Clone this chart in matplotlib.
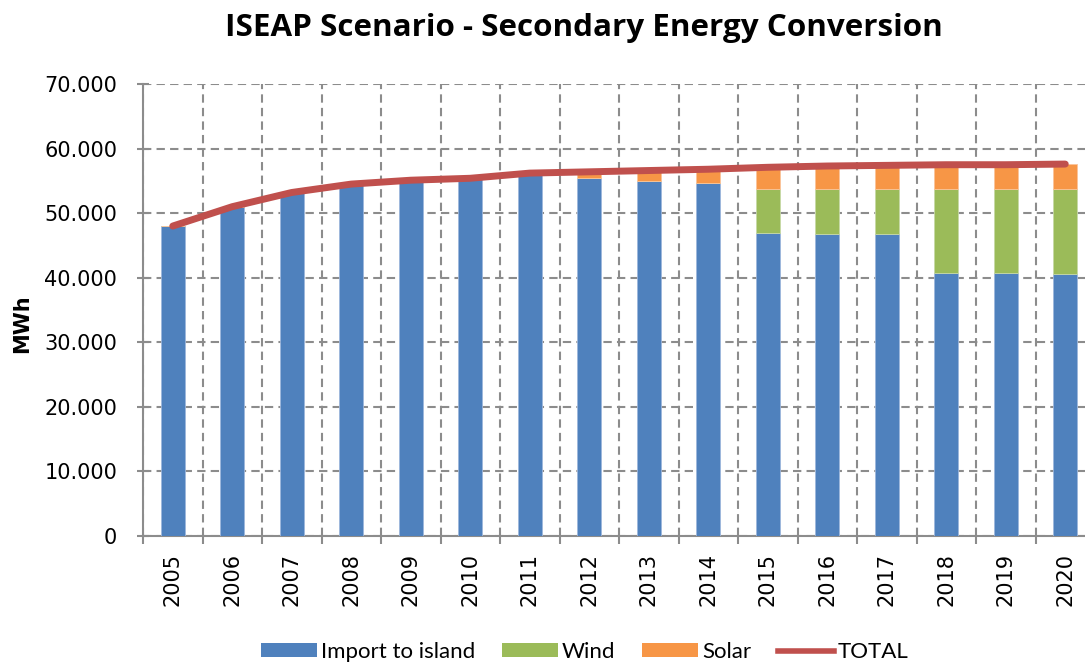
import matplotlib
matplotlib.use("Agg")
import matplotlib.pyplot as plt
import matplotlib.ticker as mticker
from matplotlib.patches import Patch
from matplotlib.lines import Line2D
import numpy as np

years = ["2005", "2006", "2007", "2008", "2009", "2010", "2011", "2012",
         "2013", "2014", "2015", "2016", "2017", "2018", "2019", "2020"]
import_island = [48000, 51000, 53200, 54500, 55100, 55400, 56000, 55500,
                 55000, 54700, 47000, 46800, 46800, 40700, 40700, 40600]
wind = [0, 0, 0, 0, 0, 0, 0, 0, 0, 0, 6800, 6900, 6900, 13000, 13000, 13100]
solar = [0, 0, 0, 0, 0, 0, 200, 900, 1600, 2100, 3300, 3600, 3700, 3800, 3800, 3900]

c_import = "#4F81BD"
c_wind = "#9BBB59"
c_solar = "#F79646"
c_total = "#C0504D"
c_grid = "#8C8C8C"

imp = np.array(import_island)
wnd = np.array(wind)
sol = np.array(solar)
total = imp + wnd + sol
x = np.arange(len(years))

fig = plt.figure(figsize=(10.85, 6.64), dpi=100)
ax = fig.add_axes([143 / 1085, 128 / 664, 952 / 1085, 452 / 664])

bw = 0.4
ax.bar(x, imp, bw, color=c_import, edgecolor="#9DB7DC", linewidth=0.6, zorder=3)
ax.bar(x, wnd, bw, bottom=imp, color=c_wind, edgecolor="#C7D9A6", linewidth=0.6, zorder=3)
ax.bar(x, sol, bw, bottom=imp + wnd, color=c_solar, edgecolor="#FAC49A", linewidth=0.6, zorder=3)
ax.plot(x, total, color=c_total, lw=5, solid_capstyle="round", zorder=4)

ax.set_xlim(-0.5, len(years) - 0.5)
ax.set_ylim(0, 70000)
ax.yaxis.set_major_locator(mticker.MultipleLocator(10000))
ax.yaxis.set_major_formatter(
    mticker.FuncFormatter(lambda v, p: "0" if v == 0 else f"{int(v):,}".replace(",", ".")))

ax.set_xticks(x)
ax.set_xticklabels(years, rotation=90, fontsize=15)
ax.set_xticks(np.arange(-0.5, len(years)), minor=True)
ax.tick_params(axis="x", which="major", length=0, pad=12)
ax.tick_params(axis="x", which="minor", length=6, width=1.5, color=c_grid, direction="out")
ax.tick_params(axis="y", which="major", length=9, width=1.5, color=c_grid,
               direction="inout", labelsize=15, pad=14)

ax.grid(axis="y", which="major", color=c_grid, ls=(0, (4, 2.5)), lw=1.5, zorder=0)
ax.grid(axis="x", which="minor", color=c_grid, ls=(0, (4, 2.5)), lw=1.5, zorder=0)
ax.grid(axis="x", which="major", visible=False)

for side in ["top", "right"]:
    ax.spines[side].set_visible(False)
for side in ["left", "bottom"]:
    ax.spines[side].set_color(c_grid)
    ax.spines[side].set_linewidth(1.5)

ax.set_ylabel("MWh", fontsize=15, fontweight="bold")
ax.yaxis.set_label_coords(-0.116, 0.47)

fig.text(584 / 1085, 1 - 28 / 664, "ISEAP Scenario - Secondary Energy Conversion",
         ha="center", va="center", fontsize=22.6, fontweight="bold", family="Open Sans")

handles = [
    Patch(facecolor=c_import, edgecolor="none", label="Import to island"),
    Patch(facecolor=c_wind, edgecolor="none", label="Wind"),
    Patch(facecolor=c_solar, edgecolor="none", label="Solar"),
    Line2D([0], [0], color=c_total, lw=4, label="TOTAL"),
]
fig.legend(handles=handles, loc="center", bbox_to_anchor=(585 / 1085, 1 - 652 / 664),
           ncol=4, frameon=False, prop={"family": "Lato", "size": 16},
           handlelength=2.5, handleheight=0.6, handletextpad=0.2, columnspacing=1.2)

fig.savefig("out.png", dpi=100)
